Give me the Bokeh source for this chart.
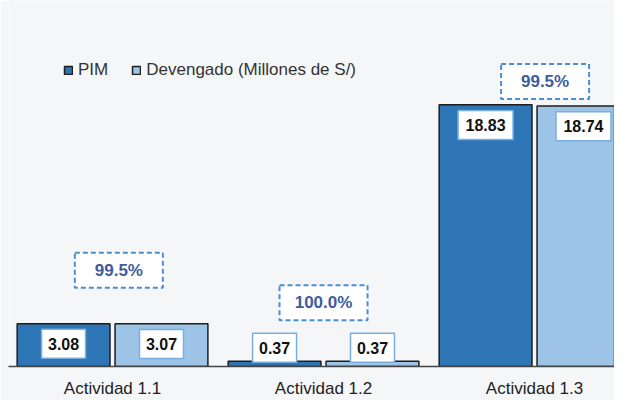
import numpy as np
from bokeh.plotting import figure
from bokeh.models import (ColumnDataSource, Range1d, FixedTicker, Legend, LegendItem)
from bokeh.core.properties import value
from bokeh.embed import file_html
from bokeh.resources import INLINE

# ---- data ----
categories = ["Actividad 1.1", "Actividad 1.2", "Actividad 1.3"]
pim = [3.08, 0.37, 18.83]
devengado = [3.07, 0.37, 18.74]
avance_pct = [99.5, 100.0, 99.5]

# annotation placement for the percent boxes (category units / data units)
pct_x_offset = [0.03, 0.0, 0.05]
pct_y = [6.93, 4.59, 20.5]

BG = "#f5f6f8"
C_PIM = "#2e75b6"
C_DEV = "#9dc3e6"
FONT = "Liberation Sans"

idx = np.arange(len(categories))
dodge = 0.232
bar_w = 0.44

p = figure(width=614, height=400, output_backend="svg", toolbar_location=None,
           x_range=Range1d(-0.493, 2.379), y_range=Range1d(0, 26.33),
           y_axis_location=None, min_border_left=8, min_border_right=0,
           min_border_top=0, min_border_bottom=0)
p.background_fill_color = BG
p.border_fill_color = BG
p.outline_line_color = None
p.xgrid.visible = False
p.ygrid.visible = False

src_pim = ColumnDataSource(dict(x=idx - dodge, top=pim))
src_dev = ColumnDataSource(dict(x=idx + dodge, top=devengado))
r_pim = p.vbar(x="x", top="top", bottom=0, width=bar_w, source=src_pim,
               fill_color=C_PIM, line_color="#1e1e1e", line_width=1.5)
r_dev = p.vbar(x="x", top="top", bottom=0, width=bar_w, source=src_dev,
               fill_color=C_DEV, line_color="#1e1e1e", line_width=1.5)

# value label boxes
def value_labels(xs, vals):
    texts = [f"{v:.2f}" for v in vals]
    ys = [max(v - 1.45, 1.35) for v in vals]
    ws = [11 * len(t) for t in texts]
    s = ColumnDataSource(dict(x=list(xs), y=ys, w=ws, t=texts))
    p.rect(x="x", y="y", width="w", height=29, width_units="screen",
           height_units="screen", source=s, fill_color="white",
           line_color="#79aee0", line_width=1.5)
    p.text(x="x", y="y", text="t", source=s, text_align="center",
           text_baseline="middle", text_font=value(FONT),
           text_font_style="bold", text_font_size="16px", text_color="#111111")

value_labels(idx - dodge, pim)
value_labels(idx + dodge, devengado)

# percent boxes
pct_src = ColumnDataSource(dict(
    x=[i + o for i, o in zip(idx, pct_x_offset)], y=pct_y,
    t=[f"{v:.1f}%" for v in avance_pct]))
p.rect(x="x", y="y", width=88, height=35, width_units="screen",
       height_units="screen", source=pct_src, fill_color="white",
       line_color="#4a8fd6", line_width=2, line_dash="5 3")
p.text(x="x", y="y", text="t", source=pct_src, text_align="center",
       text_baseline="middle", text_font=value(FONT), text_font_style="bold",
       text_font_size="17px", text_color="#3d5c9e")

# x axis
p.xaxis.ticker = FixedTicker(ticks=list(idx))
p.xaxis.major_label_overrides = {int(i): c for i, c in zip(idx, categories)}
p.xaxis.major_tick_line_color = None
p.xaxis.major_tick_out = 0
p.xaxis.major_tick_in = 0
p.xaxis.minor_tick_line_color = None
p.xaxis.axis_line_color = "#444444"
p.xaxis.axis_line_width = 1.5
p.xaxis.major_label_standoff = 12
p.xaxis.major_label_text_font = FONT
p.xaxis.major_label_text_font_size = "17px"
p.xaxis.major_label_text_color = "#222222"

legend = Legend(items=[LegendItem(label="PIM", renderers=[r_pim]),
                       LegendItem(label="Devengado (Millones de S/)", renderers=[r_dev])],
                orientation="horizontal", location=(55, 286),
                background_fill_alpha=0, border_line_alpha=0,
                glyph_width=10, glyph_height=10, label_standoff=5, spacing=23,
                padding=0, margin=0, label_text_font=FONT,
                label_text_font_size="17px", label_text_color="#333333")
p.add_layout(legend, "center")

open("out.html", "w").write(file_html(p, INLINE))
